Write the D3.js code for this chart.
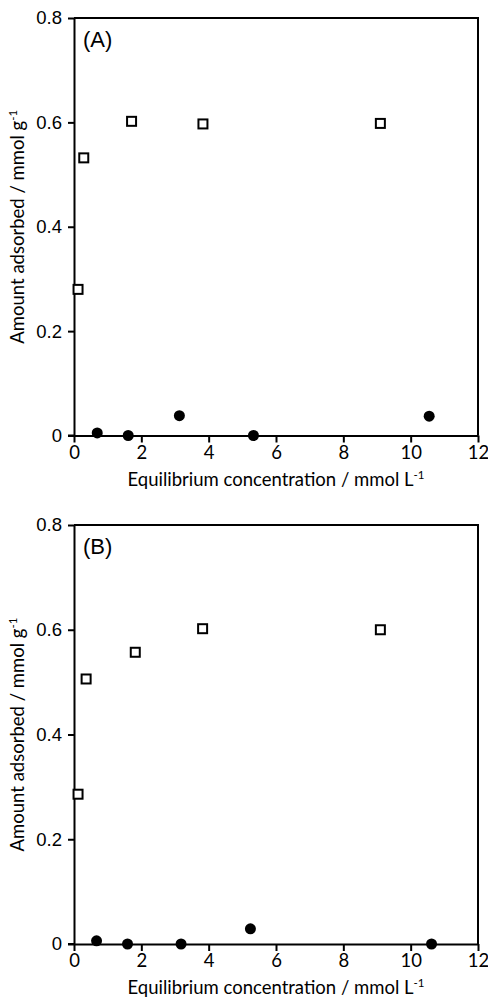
<!DOCTYPE html>
<html>
<head>
<meta charset="utf-8">
<script src="https://cdn.jsdelivr.net/npm/d3@7"></script>
<style>
  html, body { margin: 0; padding: 0; background: #fff; }
  svg { display: block; }
</style>
</head>
<body>
<svg id="chart" width="488" height="997"></svg>
<script>
// Panel labels
const panels = ["(A)", "(B)"];

// Axis ticks
const xTicks = [0, 2, 4, 6, 8, 10, 12];
const yTicks = [0, 0.2, 0.4, 0.6, 0.8];
const yTickLabels = ["0", "0.2", "0.4", "0.6", "0.8"];

// Panel A – open squares
const aSquareX = [0.12, 0.29, 1.71, 3.83, 9.10];
const aSquareY = [0.280, 0.532, 0.602, 0.597, 0.598];
// Panel A – filled circles
const aCircleX = [0.69, 1.61, 3.13, 5.33, 10.55];
const aCircleY = [0.005, 0.000, 0.038, 0.000, 0.037];

// Panel B – open squares
const bSquareX = [0.12, 0.36, 1.82, 3.82, 9.10];
const bSquareY = [0.286, 0.506, 0.557, 0.602, 0.600];
// Panel B – filled circles
const bCircleX = [0.67, 1.59, 3.18, 5.24, 10.62];
const bCircleY = [0.006, 0.000, 0.000, 0.029, 0.000];

const panelData = [
  { label: panels[0], sx: aSquareX, sy: aSquareY, cx: aCircleX, cy: aCircleY, top: 18, bottom: 435.5 },
  { label: panels[1], sx: bSquareX, sy: bSquareY, cx: bCircleX, cy: bCircleY, top: 525, bottom: 944 }
];

const svg = d3.select("#chart");
const left = 74, right = 478;
const x = d3.scaleLinear().domain([0, 12]).range([left, right]);

const numFont = "'Liberation Sans', Arial, sans-serif";
const textFont = "Lato, 'Open Sans', sans-serif";

panelData.forEach(p => {
  const y = d3.scaleLinear().domain([0, 0.8]).range([p.bottom, p.top]);
  const g = svg.append("g");

  // frame: top and right edges
  g.append("path")
    .attr("d", `M${left},${p.top}H${right}V${p.bottom}`)
    .attr("fill", "none").attr("stroke", "#000").attr("stroke-width", 2);

  // y axis
  const yAxis = d3.axisLeft(y).tickValues(yTicks)
    .tickFormat((d, i) => yTickLabels[i]).tickSize(6).tickSizeOuter(0).tickPadding(6);
  const ya = g.append("g").attr("transform", `translate(${left},0)`).call(yAxis);
  ya.select(".domain").attr("stroke-width", 2);
  ya.selectAll(".tick line").attr("stroke-width", 2);
  ya.selectAll(".tick text").attr("font-family", numFont).attr("font-size", 18.5).attr("fill", "#000");

  // x axis
  const xAxis = d3.axisBottom(x).tickValues(xTicks).tickSize(7).tickSizeOuter(0).tickPadding(3);
  const xa = g.append("g").attr("transform", `translate(0,${p.bottom})`).call(xAxis);
  xa.select(".domain").attr("stroke-width", 2);
  xa.selectAll(".tick line").attr("stroke-width", 2);
  xa.selectAll(".tick text").attr("font-family", textFont).attr("font-size", 18.5).attr("fill", "#000");

  // horizontal tick to the left at y=0 continues the x axis line
  g.append("line").attr("x1", left - 6).attr("x2", left)
    .attr("y1", y(0)).attr("y2", y(0)).attr("stroke", "#000").attr("stroke-width", 2);

  // x axis title
  const xt = g.append("text")
    .attr("x", (left + right) / 2).attr("y", p.bottom + 50)
    .attr("text-anchor", "middle").attr("font-family", textFont).attr("font-size", 18.5);
  xt.append("tspan").text("Equilibrium concentration / mmol L");
  xt.append("tspan").attr("dy", -7).attr("font-size", 11.5).text("-1");

  // y axis title
  const yt = g.append("text")
    .attr("transform", `translate(24,${(p.top + p.bottom) / 2}) rotate(-90)`)
    .attr("text-anchor", "middle").attr("font-family", textFont).attr("font-size", 18.5);
  yt.append("tspan").text("Amount adsorbed / mmol g");
  yt.append("tspan").attr("dy", -7).attr("font-size", 11.5).text("-1");

  // panel label
  g.append("text").attr("x", left + 9).attr("y", p.top + 29)
    .attr("font-family", numFont).attr("font-size", 22).text(p.label);

  // filled circles
  g.selectAll("circle.pt").data(p.cx.map((v, i) => [v, p.cy[i]])).join("circle")
    .attr("class", "pt")
    .attr("cx", d => x(d[0])).attr("cy", d => y(d[1])).attr("r", 5.5)
    .attr("fill", "#000");

  // open squares
  const s = 9;
  g.selectAll("rect.pt").data(p.sx.map((v, i) => [v, p.sy[i]])).join("rect")
    .attr("class", "pt")
    .attr("x", d => x(d[0]) - s / 2).attr("y", d => y(d[1]) - s / 2)
    .attr("width", s).attr("height", s)
    .attr("fill", "#fff").attr("stroke", "#000").attr("stroke-width", 2);
});
</script>
</body>
</html>
